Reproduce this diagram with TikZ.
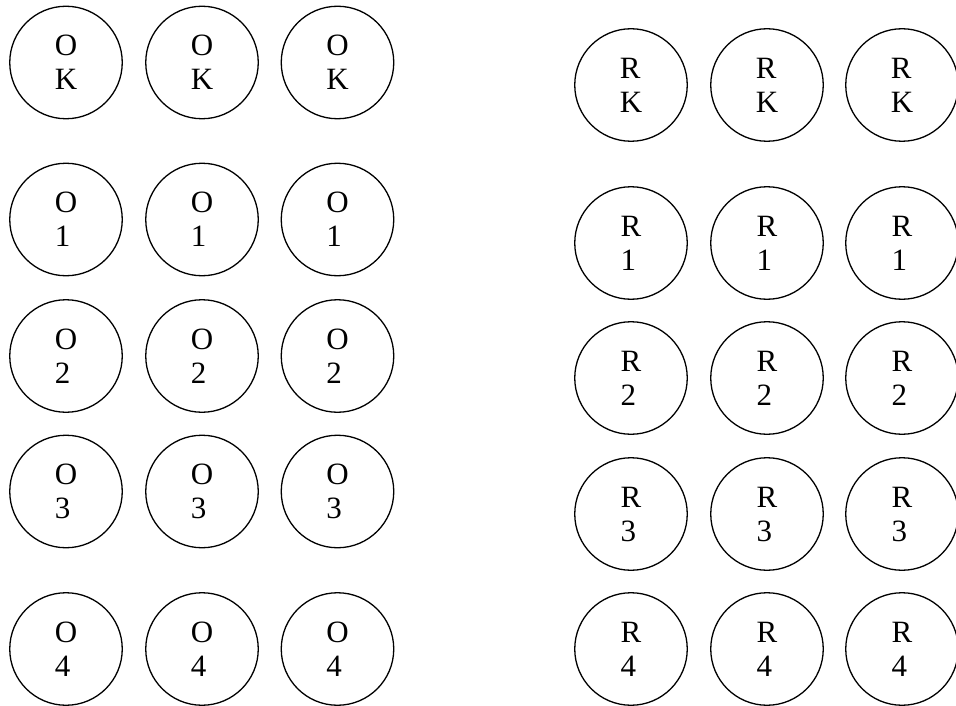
\documentclass[tikz,border=0pt]{standalone}
\usepackage{fontspec}
\setmainfont{Liberation Serif}
\tikzset{
  ring/.style={draw=black, circle, line width=1.3pt, minimum size=112.5pt, inner sep=0pt,
    align=left, font=\fontsize{31}{34}\selectfont}
}
\begin{document}
\begin{tikzpicture}[x=1pt, y=-1pt]
  \useasboundingbox (0,0) rectangle (956,706);

  % O group -- left half, three per row
  \foreach \lab/\yy in {K/62.5, 1/219.5, 2/356, 3/491.5, 4/649}
    \foreach \xx [count=\c] in {66, 202, 337.5}
      \node[ring] (o-\lab-\c) at (\xx,\yy) {O\\\lab};

  % R group -- right half, rows sit a little lower
  \foreach \lab/\yy in {K/85, 1/243, 2/378, 3/514, 4/649}
    \foreach \xx [count=\c] in {631, 767, 902}
      \node[ring] (r-\lab-\c) at (\xx,\yy) {R\\\lab};

\end{tikzpicture}
\end{document}
